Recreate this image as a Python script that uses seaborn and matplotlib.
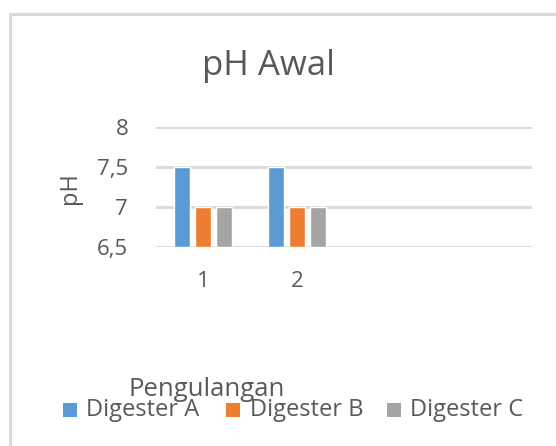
import pandas as pd
import numpy as np
import matplotlib.pyplot as plt
import seaborn as sns
from matplotlib.patches import Rectangle

# ==============================================================================
# Data
# ==============================================================================
pengulangan = ['1', '2', '3', '4']
digester_a = [7.5, 7.5, np.nan, np.nan]
digester_b = [7.0, 7.0, np.nan, np.nan]
digester_c = [7.0, 7.0, np.nan, np.nan]
seri = ['Digester A', 'Digester B', 'Digester C']
warna = ['#5B9BD5', '#ED7D31', '#A5A5A5']
label_x = ['1', '2', '', '']

data = pd.DataFrame({
    'Pengulangan': pengulangan * 3,
    'pH': digester_a + digester_b + digester_c,
    'Seri': [s for s in seri for _ in pengulangan],
})

sns.set_style('white')
plt.rcParams['font.family'] = ['Open Sans', 'DejaVu Sans']
teks = '#595959'

fig = plt.figure(figsize=(5.56, 4.46), dpi=100)
ax = fig.add_axes([156 / 556, 1 - 247 / 446, (532 - 156) / 556, (247 - 127) / 446])

# bingkai chart
fig.patches.append(Rectangle((9.5 / 556, -0.1), 1.2, 1 - 13.5 / 446 + 0.1,
                             transform=fig.transFigure, fill=False,
                             edgecolor='#D9D9D9', linewidth=2.2, zorder=0))

sns.barplot(data=data, x='Pengulangan', y='pH', hue='Seri', order=pengulangan,
            hue_order=seri, palette=warna, saturation=1, width=0.67, gap=0.2,
            ax=ax, legend=False, zorder=3)

# batang dimulai dari 6,5 (dasar sumbu)
for p in ax.patches:
    h = p.get_height()
    if np.isfinite(h):
        p.set_y(6.5)
        p.set_height(h - 6.5)

ax.set_ylim(6.5, 8)
ax.set_xlim(-0.5, 3.5)
ax.set_yticks([6.5, 7, 7.5, 8])
ax.set_yticklabels(['6,5', '7', '7,5', '8'])
ax.set_xticks(range(4))
ax.set_xticklabels(label_x)
ax.grid(axis='y', color='#D9D9D9', linewidth=2, zorder=0)
ax.grid(axis='x', visible=False)
sns.despine(ax=ax, left=True, bottom=True)
ax.tick_params(axis='both', length=0, labelsize=16, colors=teks)
ax.tick_params(axis='x', pad=17)
ax.tick_params(axis='y', pad=20)
ax.set_xlabel('')
ax.set_ylabel('')

fig.text(269 / 556, 1 - 66 / 446, 'pH Awal', ha='center', va='center', fontsize=25, color=teks)
fig.text(70 / 556, 1 - 188 / 446, 'pH', ha='center', va='center', rotation=90, fontsize=17, color=teks)
fig.text(207 / 556, 1 - 390 / 446, 'Pengulangan', ha='center', va='center', fontsize=18.5, color=teks)

# legenda
posisi = [(63, 86), (226, 250), (387, 410)]
for (xk, xt), nama, c in zip(posisi, seri, warna):
    fig.patches.append(Rectangle((xk / 556, 1 - 417 / 446), 14 / 556, 14 / 446,
                                 transform=fig.transFigure, facecolor=c, edgecolor='none'))
    fig.text(xt / 556, 1 - 410 / 446, nama, ha='left', va='center', fontsize=17, color=teks)

plt.savefig('out.png', dpi=100)
